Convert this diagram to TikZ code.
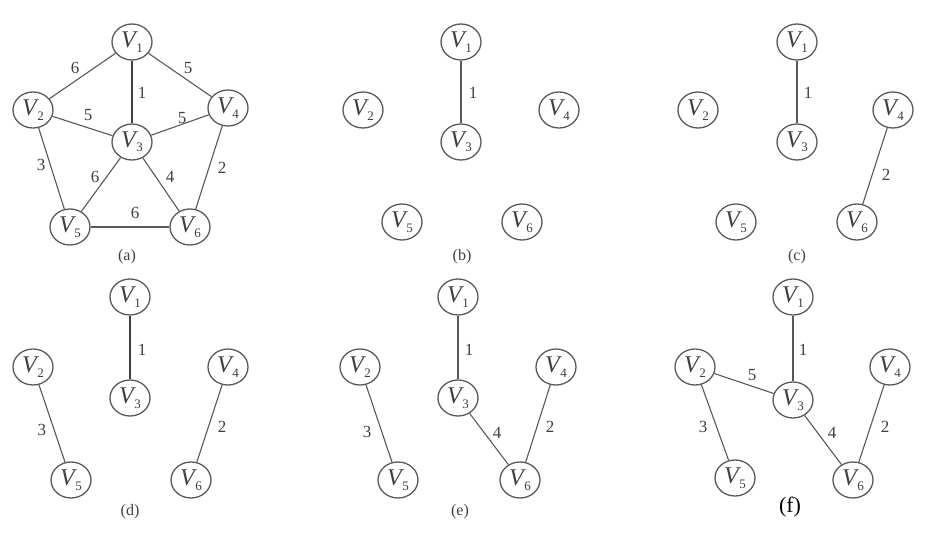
\documentclass[tikz,border=0pt]{standalone}
\usepackage{fontspec}
\setmainfont{Liberation Serif}
\usetikzlibrary{shapes.geometric}
\newcommand\Vn[1]{\textit{V}\kern-0.08em\raisebox{-0.4ex}{\fontsize{13}{13}\selectfont #1}}
\tikzset{
  vx/.style={ellipse, draw=black!65, line width=1.3pt, minimum width=40pt, minimum height=36pt,
    inner sep=0pt, font=\fontsize{24}{24}\selectfont, text=black!75},
  ed/.style={draw=black!65, line width=1.1pt},
  edh/.style={draw=black!75, line width=1.8pt},
  wt/.style={font=\fontsize{17}{17}\selectfont, text=black!75, inner sep=0pt},
  captext/.style={font=\fontsize{16}{16}\selectfont, text=black!75, inner sep=0pt}
}
\begin{document}
\begin{tikzpicture}[x=1pt,y=-1pt]
\useasboundingbox[fill=white] (0,0) rectangle (935,549);
% ---------- (a)
\node[vx] (a1) at (132,42) {\Vn1};
\node[vx] (a2) at (33,110) {\Vn2};
\node[vx] (a4) at (228,108) {\Vn4};
\node[vx] (a3) at (132,142) {\Vn3};
\node[vx] (a5) at (70,227) {\Vn5};
\node[vx] (a6) at (190,227) {\Vn6};
\draw[ed] (a1) -- (a2);
\draw[ed] (a1) -- (a4);
\draw[edh] (a1) -- (a3);
\draw[ed] (a2) -- (a3);
\draw[ed] (a4) -- (a3);
\draw[ed] (a2) -- (a5);
\draw[ed] (a3) -- (a5);
\draw[ed] (a3) -- (a6);
\draw[ed] (a4) -- (a6);
\draw[ed] (a5) -- (a6);
\node[wt] (aw12) at (75,68) {6};
\node[wt] (aw14) at (188,68) {5};
\node[wt] (aw13) at (142,93) {1};
\node[wt] (aw23) at (88,115) {5};
\node[wt] (aw43) at (182,118) {5};
\node[wt] (aw25) at (41,165) {3};
\node[wt] (aw35) at (95,177) {6};
\node[wt] (aw36) at (170,177) {4};
\node[wt] (aw46) at (222,168) {2};
\node[wt] (aw56) at (135,213) {6};
\node[captext] (acap) at (127,257) {(a)};
% ---------- (b)
\node[vx] (b1) at (461,42) {\Vn1};
\node[vx] (b2) at (363,110) {\Vn2};
\node[vx] (b4) at (559,110) {\Vn4};
\node[vx] (b3) at (461,142) {\Vn3};
\node[vx] (b5) at (402,222) {\Vn5};
\node[vx] (b6) at (522,222) {\Vn6};
\draw[ed] (b1) -- (b3);
\node[wt] (bw13) at (473,93) {1};
\node[captext] (bcap) at (462,257) {(b)};
% ---------- (c)
\node[vx] (c1) at (797,42) {\Vn1};
\node[vx] (c2) at (698,110) {\Vn2};
\node[vx] (c4) at (893,110) {\Vn4};
\node[vx] (c3) at (797,142) {\Vn3};
\node[vx] (c5) at (736,222) {\Vn5};
\node[vx] (c6) at (857,222) {\Vn6};
\draw[ed] (c1) -- (c3);
\draw[ed] (c4) -- (c6);
\node[wt] (cw13) at (808,93) {1};
\node[wt] (cw46) at (886,175) {2};
\node[captext] (ccap) at (797,257) {(c)};
% ---------- (d)
\node[vx] (d1) at (130,297) {\Vn1};
\node[vx] (d2) at (33,367) {\Vn2};
\node[vx] (d4) at (228,367) {\Vn4};
\node[vx] (d3) at (130,398) {\Vn3};
\node[vx] (d5) at (71,480) {\Vn5};
\node[vx] (d6) at (191,480) {\Vn6};
\draw[edh] (d1) -- (d3);
\draw[ed] (d2) -- (d5);
\draw[ed] (d4) -- (d6);
\node[wt] (dw13) at (142,350) {1};
\node[wt] (dw25) at (42,430) {3};
\node[wt] (dw46) at (222,427) {2};
\node[captext] (dcap) at (130,512) {(d)};
% ---------- (e)
\node[vx] (e1) at (458,297) {\Vn1};
\node[vx] (e2) at (360,367) {\Vn2};
\node[vx] (e4) at (556,367) {\Vn4};
\node[vx] (e3) at (458,398) {\Vn3};
\node[vx] (e5) at (398,480) {\Vn5};
\node[vx] (e6) at (520,480) {\Vn6};
\draw[ed] (e1) -- (e3);
\draw[ed] (e2) -- (e5);
\draw[ed] (e3) -- (e6);
\draw[ed] (e4) -- (e6);
\node[wt] (ew13) at (469,350) {1};
\node[wt] (ew25) at (367,432) {3};
\node[wt] (ew36) at (497,433) {4};
\node[wt] (ew46) at (550,427) {2};
\node[captext] (ecap) at (460,512) {(e)};
% ---------- (f)
\node[vx] (f1) at (793,297) {\Vn1};
\node[vx] (f2) at (695,367) {\Vn2};
\node[vx] (f4) at (890,367) {\Vn4};
\node[vx] (f3) at (793,400) {\Vn3};
\node[vx] (f5) at (735,478) {\Vn5};
\node[vx] (f6) at (853,480) {\Vn6};
\draw[ed] (f1) -- (f3);
\draw[ed] (f2) -- (f3);
\draw[ed] (f2) -- (f5);
\draw[ed] (f3) -- (f6);
\draw[ed] (f4) -- (f6);
\node[wt] (fw13) at (803,350) {1};
\node[wt] (fw23) at (752,375) {5};
\node[wt] (fw25) at (703,427) {3};
\node[wt] (fw36) at (832,433) {4};
\node[wt] (fw46) at (885,427) {2};
\node[captext, text=black, font=\fontsize{22}{22}\selectfont] (fcap) at (790,507) {(f)};
\end{tikzpicture}
\end{document}
